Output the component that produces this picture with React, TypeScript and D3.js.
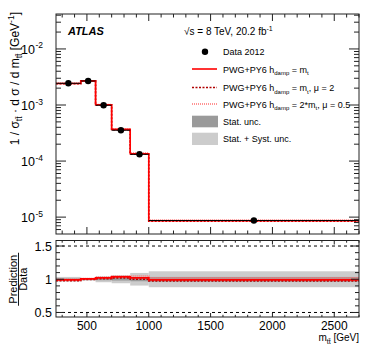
import React from 'react';
import * as d3 from 'd3';

const binEdges = [250, 450, 570, 700, 850, 1000, 2700];
const dataValues = [2.44e-3, 2.68e-3, 9.9e-4, 3.55e-4, 1.32e-4, 8.7e-6];
const ratioNominal = [0.99, 1.005, 1.02, 1.035, 1.02, 0.99];
const ratioMu2 = [0.98, 0.998, 1.01, 1.02, 1.0, 0.975];
const ratioMu05 = [1.0, 1.01, 1.03, 1.05, 1.05, 1.02];
const statUnc = [0.012, 0.01, 0.015, 0.02, 0.03, 0.035];
const totalUnc = [0.035, 0.02, 0.045, 0.06, 0.095, 0.12];
const xTickValues = [500, 1000, 1500, 2000, 2500];
const logDecades = [-5, -4, -3, -2];
const ratioTickValues = [0.5, 1, 1.5];
const ratioTickLabels = ['0.5', '1', '1.5'];

const FONT = '"Liberation Sans", Arial, Helvetica, sans-serif';
const RED = '#ff0000';
const DARKRED = '#b00000';
const PINK = '#ff7070';

export default function App() {
  const L = 56, R = 359, T1 = 14, B1 = 234, T2 = 240.5, B2 = 317;
  const x = d3.scaleLinear().domain([250, 2700]).range([L, R]);
  const y = d3.scaleLog().domain([5e-6, 0.042]).range([B1, T1]);
  const yr = d3.scaleLinear().domain([0.432, 1.583]).range([B2, T2]);

  const stepPath = (vals: number[], ys: (v: number) => number) => {
    const pts: [number, number][] = vals.map((v, i) => [x(binEdges[i]), ys(v)]);
    pts.push([x(binEdges[binEdges.length - 1]), ys(vals[vals.length - 1])]);
    return d3.line().curve(d3.curveStepAfter)(pts) || '';
  };

  const predNom = dataValues.map((d, i) => d * ratioNominal[i]);
  const predMu2 = dataValues.map((d, i) => d * ratioMu2[i]);
  const predMu05 = dataValues.map((d, i) => d * ratioMu05[i]);

  const xMinor = d3.range(300, 2701, 100).filter(v => v % 500 !== 0);
  const logMinor: number[] = [];
  for (let k = -6; k <= -2; k++) for (let m = 2; m <= 9; m++) {
    const v = m * Math.pow(10, k);
    if (v >= 5e-6 && v <= 0.042) logMinor.push(v);
  }
  const ratioMinor = d3.range(0.5, 1.59, 0.1).map(v => Math.round(v * 100) / 100).filter(v => ![0.5, 1, 1.5].includes(v));

  return (
    <svg width={374} height={360} style={{ position: 'absolute', left: 0, top: 0, background: '#fff' }} fontFamily={FONT}>
      <defs>
        <clipPath id="c1"><rect x={L} y={T1} width={R - L} height={B1 - T1} /></clipPath>
        <clipPath id="c2"><rect x={L} y={T2} width={R - L} height={B2 - T2} /></clipPath>
      </defs>

      {/* ===== TOP PANEL ===== */}
      <g clipPath="url(#c1)">
        <path d={stepPath(predMu05, y)} fill="none" stroke={PINK} strokeWidth={1.6} strokeDasharray="1,1" />
        <path d={stepPath(predMu2, y)} fill="none" stroke={DARKRED} strokeWidth={1.6} strokeDasharray="2,1.5" />
        <path d={stepPath(predNom, y)} fill="none" stroke={RED} strokeWidth={1.6} />
        {dataValues.map((v, i) => (
          <g key={i}>
            <line x1={x(binEdges[i])} x2={x(binEdges[i + 1])} y1={y(v)} y2={y(v)} stroke="#000" strokeWidth={1} />
            <circle cx={x((binEdges[i] + binEdges[i + 1]) / 2)} cy={y(v)} r={3.2} fill="#000" />
          </g>
        ))}
      </g>
      <g stroke="#222" strokeWidth={1}>
        {xTickValues.map(v => (
          <g key={'tx' + v}>
            <line x1={x(v)} x2={x(v)} y1={B1} y2={B1 - 7} />
            <line x1={x(v)} x2={x(v)} y1={T1} y2={T1 + 7} />
          </g>
        ))}
        {xMinor.map(v => (
          <g key={'txm' + v}>
            <line x1={x(v)} x2={x(v)} y1={B1} y2={B1 - 3.5} />
            <line x1={x(v)} x2={x(v)} y1={T1} y2={T1 + 3.5} />
          </g>
        ))}
        {logDecades.map(k => (
          <g key={'ty' + k}>
            <line x1={L} x2={L + 10} y1={y(Math.pow(10, k))} y2={y(Math.pow(10, k))} />
            <line x1={R} x2={R - 10} y1={y(Math.pow(10, k))} y2={y(Math.pow(10, k))} />
          </g>
        ))}
        {logMinor.map((v, i) => (
          <g key={'tym' + i}>
            <line x1={L} x2={L + 5} y1={y(v)} y2={y(v)} />
            <line x1={R} x2={R - 5} y1={y(v)} y2={y(v)} />
          </g>
        ))}
      </g>
      <rect x={L} y={T1} width={R - L} height={B1 - T1} fill="none" stroke="#222" strokeWidth={1} />
      {logDecades.map(k => (
        <text key={'yl' + k} x={43} y={y(Math.pow(10, k)) + 5} fontSize={12.5} textAnchor="end" fill="#000">
          10
          <tspan dx={0.5} dy={-5.5} fontSize={8.5}>{'-' + Math.abs(k)}</tspan>
        </text>
      ))}
      <text transform="translate(18.5,12) rotate(-90)" textAnchor="end" fontSize={12} fill="#000">
        1 / σ<tspan dy={3.5} fontSize={8.5}>tt̄</tspan><tspan dy={-3.5}> · d σ / d m</tspan><tspan dy={3.5} fontSize={8.5}>tt̄</tspan><tspan dy={-3.5}> [GeV</tspan><tspan dy={-5} fontSize={8.5}>-1</tspan><tspan dy={5}>]</tspan>
      </text>

      <text x={68} y={35} fontSize={11} fontWeight="bold" fontStyle="italic" fill="#000">ATLAS</text>
      <text x={184} y={35} fontSize={10} fill="#000">
        √s = 8 TeV, 20.2 fb<tspan dy={-4} fontSize={7}>-1</tspan>
      </text>

      <g fontSize={9} fill="#000">
        <circle cx={205} cy={51.7} r={3.2} fill="#000" />
        <text x={223} y={55}>Data 2012</text>
        <line x1={192} x2={217} y1={69} y2={69} stroke={RED} strokeWidth={1.6} />
        <text x={223} y={72.5}>PWG+PY6 h<tspan dy={2.5} fontSize={6}>damp</tspan><tspan dy={-2.5}> = m</tspan><tspan dy={2.5} fontSize={6}>t</tspan></text>
        <line x1={192} x2={217} y1={87.5} y2={87.5} stroke={DARKRED} strokeWidth={1.4} strokeDasharray="2,1.5" />
        <text x={223} y={91}>PWG+PY6 h<tspan dy={2.5} fontSize={6}>damp</tspan><tspan dy={-2.5}> = m</tspan><tspan dy={2.5} fontSize={6}>t</tspan><tspan dy={-2.5}>, μ = 2</tspan></text>
        <line x1={192} x2={217} y1={104} y2={104} stroke={PINK} strokeWidth={1.4} strokeDasharray="1,1" />
        <text x={223} y={107.5}>PWG+PY6 h<tspan dy={2.5} fontSize={6}>damp</tspan><tspan dy={-2.5}> = 2*m</tspan><tspan dy={2.5} fontSize={6}>t</tspan><tspan dy={-2.5}>, μ = 0.5</tspan></text>
        <rect x={192} y={115.7} width={26} height={11.6} fill="#9a9a9a" />
        <text x={223} y={125}>Stat. unc.</text>
        <rect x={192} y={132.7} width={26} height={12.3} fill="#cccccc" />
        <text x={223} y={142}>Stat. + Syst. unc.</text>
      </g>

      {/* ===== RATIO PANEL ===== */}
      <g clipPath="url(#c2)">
        {totalUnc.map((u, i) => (
          <rect key={'tu' + i} x={x(binEdges[i])} width={x(binEdges[i + 1]) - x(binEdges[i])} y={yr(1 + u)} height={yr(1 - u) - yr(1 + u)} fill="#cccccc" />
        ))}
        {statUnc.map((u, i) => (
          <rect key={'su' + i} x={x(binEdges[i])} width={x(binEdges[i + 1]) - x(binEdges[i])} y={yr(1 + u)} height={yr(1 - u) - yr(1 + u)} fill="#9a9a9a" />
        ))}
        {ratioTickValues.filter(v => v !== 1).map(v => (
          <line key={'dl' + v} x1={L} x2={R} y1={yr(v)} y2={yr(v)} stroke="#000" strokeWidth={1} strokeDasharray="3,3" />
        ))}
        <path d={stepPath(ratioMu05, yr)} fill="none" stroke={PINK} strokeWidth={1.6} strokeDasharray="1,1" />
        <path d={stepPath(ratioMu2, yr)} fill="none" stroke={DARKRED} strokeWidth={1.6} strokeDasharray="2,1.5" />
        <path d={stepPath(ratioNominal, yr)} fill="none" stroke={RED} strokeWidth={1.8} />
      </g>
      <g stroke="#222" strokeWidth={1}>
        {xTickValues.map(v => (
          <g key={'rx' + v}>
            <line x1={x(v)} x2={x(v)} y1={B2} y2={B2 - 4} />
            <line x1={x(v)} x2={x(v)} y1={T2} y2={T2 + 4} />
          </g>
        ))}
        {xMinor.map(v => (
          <g key={'rxm' + v}>
            <line x1={x(v)} x2={x(v)} y1={B2} y2={B2 - 2.2} />
            <line x1={x(v)} x2={x(v)} y1={T2} y2={T2 + 2.2} />
          </g>
        ))}
        {ratioTickValues.map(v => (
          <g key={'ry' + v}>
            <line x1={L} x2={L + 8} y1={yr(v)} y2={yr(v)} />
            <line x1={R} x2={R - 8} y1={yr(v)} y2={yr(v)} />
          </g>
        ))}
        {ratioMinor.map(v => (
          <g key={'rym' + v}>
            <line x1={L} x2={L + 4} y1={yr(v)} y2={yr(v)} />
            <line x1={R} x2={R - 4} y1={yr(v)} y2={yr(v)} />
          </g>
        ))}
      </g>
      <rect x={L} y={T2} width={R - L} height={B2 - T2} fill="none" stroke="#222" strokeWidth={1} />
      {ratioTickValues.map((v, i) => (
        <text key={'rl' + v} x={52} y={yr(v) + 4.5} fontSize={12.5} textAnchor="end" fill="#000">{ratioTickLabels[i]}</text>
      ))}
      {xTickValues.map(v => (
        <text key={'xl' + v} x={x(v)} y={330} fontSize={12} textAnchor="middle" fill="#000">{v}</text>
      ))}
      <g transform={`translate(0,${yr(1)}) rotate(-90)`}>
        <text x={0} y={16.7} fontSize={11} textAnchor="middle" fill="#000">Prediction</text>
        <line x1={-26.5} x2={26.5} y1={18.5} y2={18.5} stroke="#000" strokeWidth={0.9} />
        <text x={0} y={27.3} fontSize={11} textAnchor="middle" fill="#000">Data</text>
      </g>
      <text x={359} y={341} fontSize={10} textAnchor="end" fill="#000">
        m<tspan dy={3} fontSize={7}>tt̄</tspan><tspan dy={-3}> [GeV]</tspan>
      </text>
    </svg>
  );
}
